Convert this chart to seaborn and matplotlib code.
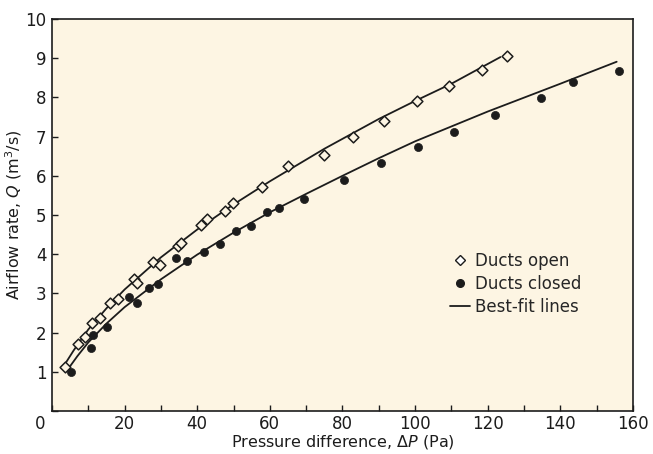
import matplotlib
matplotlib.use('Agg')
import matplotlib.pyplot as plt
import pandas as pd
import seaborn as sns
from matplotlib.lines import Line2D

open_dp = [3.7, 7.1, 9.2, 11.0, 13.1, 16.1, 18.1, 22.6, 23.3, 27.7, 29.8, 34.6, 35.6,
           41.1, 42.7, 47.6, 49.8, 57.8, 64.9, 74.9, 82.8, 91.3, 100.4, 109.4, 118.4, 125.4]
open_q = [1.13, 1.71, 1.9, 2.24, 2.37, 2.75, 2.85, 3.36, 3.27, 3.8, 3.72, 4.2, 4.29,
          4.74, 4.9, 5.1, 5.31, 5.72, 6.26, 6.53, 7.0, 7.41, 7.91, 8.3, 8.7, 9.06]
closed_dp = [5.3, 10.7, 11.2, 15.2, 21.3, 23.3, 26.6, 29.1, 34.2, 37.1, 41.8, 46.4, 50.6,
             54.8, 59.2, 62.4, 69.5, 80.5, 90.6, 100.8, 110.8, 121.9, 134.6, 143.5, 156.2]
closed_q = [1.0, 1.61, 1.94, 2.15, 2.92, 2.76, 3.15, 3.24, 3.9, 3.83, 4.05, 4.27, 4.6,
            4.73, 5.07, 5.17, 5.41, 5.89, 6.33, 6.74, 7.13, 7.55, 7.99, 8.4, 8.68]

# best-fit curves, vertices
fit_open_dp = [3.6, 6, 10, 15, 20, 30, 40, 50, 60, 75, 90, 100, 110, 123.5]
fit_open_q = [1.2, 1.55, 2.08, 2.62, 3.1, 3.92, 4.63, 5.27, 5.86, 6.69, 7.45, 7.91, 8.35, 9.03]
fit_closed_dp = [4.5, 7, 10, 15, 20, 30, 40, 50, 60, 70, 80, 90, 100, 120, 140, 155.5]
fit_closed_q = [1.08, 1.4, 1.75, 2.23, 2.65, 3.36, 3.99, 4.55, 5.07, 5.54, 6.0, 6.45, 6.88, 7.64, 8.35, 8.91]

x_ticks = [0, 20, 40, 60, 80, 100, 120, 140, 160]
x_labels = ['', '20', '40', '60', '80', '100', '120', '140', '160']
y_ticks = list(range(0, 11))
y_labels = [''] + [str(v) for v in range(1, 11)]

sns.set_style('ticks')
plt.rcParams['font.family'] = ['DejaVu Sans']
plt.rcParams['mathtext.fontset'] = 'dejavusans'

ink = '#1c1c1c'
paper = '#fdf5e3'
fig = plt.figure(figsize=(6.53, 4.54), dpi=100)
ax = fig.add_axes([0.0796, 0.0947, 0.8898, 0.8634])
ax.set_facecolor(paper)

fits = pd.concat([
    pd.DataFrame({'dp': fit_open_dp, 'q': fit_open_q, 'set': 'open'}),
    pd.DataFrame({'dp': fit_closed_dp, 'q': fit_closed_q, 'set': 'closed'}),
])
sns.lineplot(data=fits, x='dp', y='q', units='set', estimator=None, sort=False,
             color=ink, linewidth=1.3, ax=ax, legend=False)

sns.scatterplot(x=open_dp, y=open_q, marker='D', s=30, facecolor=paper,
                edgecolor=ink, linewidth=1.1, ax=ax, zorder=3)
sns.scatterplot(x=closed_dp, y=closed_q, marker='o', s=34, color=ink,
                edgecolor=ink, linewidth=0.5, ax=ax, zorder=3)

ax.set_xlim(0, 160)
ax.set_ylim(0, 10)
ax.set_xticks(x_ticks)
ax.set_xticklabels(x_labels)
ax.set_xticks(range(0, 161, 10), minor=True)
ax.set_yticks(y_ticks)
ax.set_yticklabels(y_labels)
ax.tick_params(axis='both', which='both', direction='in', color=ink, width=1.0,
               labelsize=12, labelcolor=ink)
ax.tick_params(axis='both', which='major', length=4)
ax.tick_params(axis='x', which='minor', length=4)
ax.tick_params(axis='x', pad=3)
ax.tick_params(axis='y', pad=4)
for sp in ax.spines.values():
    sp.set_color(ink)
    sp.set_linewidth(1.2)

# shared origin label sits off the corner
ax.annotate('0', xy=(0, 0), xytext=(-8.5, -9), textcoords='offset points',
            ha='center', va='center', fontsize=12, color=ink)

ax.set_xlabel(r'Pressure difference, $\mathrm{\Delta}P$ (Pa)', fontsize=11.5, color=ink, labelpad=0)
ax.set_ylabel(r'Airflow rate, $Q$ (m$^3$/s)', fontsize=11.5, color=ink, labelpad=1)

handles = [
    Line2D([], [], marker='D', linestyle='none', markersize=5, markerfacecolor='white',
           markeredgecolor=ink, markeredgewidth=1.0),
    Line2D([], [], marker='o', linestyle='none', markersize=5.5, color=ink),
    Line2D([], [], color=ink, linewidth=1.3),
]
ax.legend(handles, ['Ducts open', 'Ducts closed', 'Best-fit lines'], frameon=False,
          loc='upper left', bbox_to_anchor=(0.673, 0.423), fontsize=12,
          handlelength=1.2, handletextpad=0.3, labelspacing=0.3, borderaxespad=0)

fig.savefig('out.png', dpi=100)
